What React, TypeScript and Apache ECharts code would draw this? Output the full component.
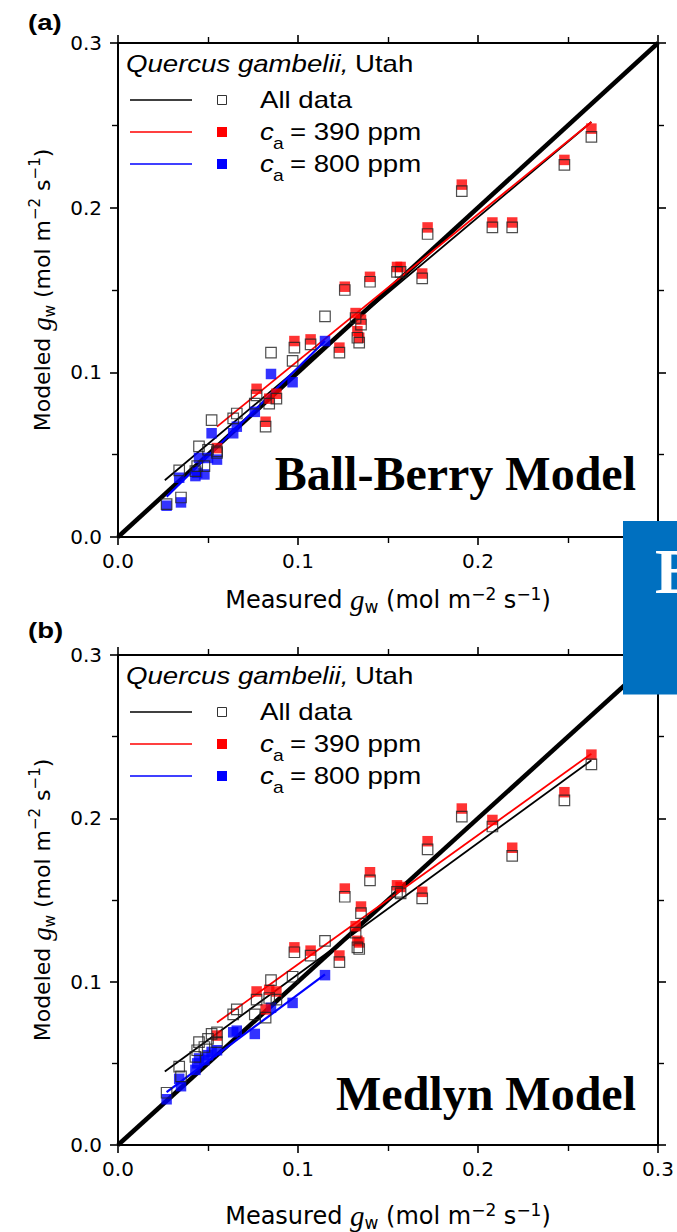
import React, { useEffect, useRef } from 'react';
import * as echarts from 'echarts';

// ---------- data ----------
// measured g_w, ca = 800 ppm (blue)
const c800X = [0.027, 0.034, 0.035, 0.043, 0.044, 0.045, 0.048, 0.050, 0.052, 0.055, 0.064, 0.066, 0.076, 0.085, 0.097, 0.115];
// measured g_w, ca = 390 ppm (red)
const c390X = [0.055, 0.077, 0.082, 0.084, 0.088, 0.098, 0.107, 0.123, 0.126, 0.132, 0.133, 0.134, 0.135, 0.140, 0.155, 0.157, 0.169, 0.172, 0.191, 0.208, 0.219, 0.248, 0.263];

// Ball-Berry modeled
const bb800 = [0.019, 0.036, 0.021, 0.037, 0.039, 0.048, 0.038, 0.048, 0.063, 0.047, 0.063, 0.067, 0.076, 0.099, 0.094, 0.119];
const bb390 = [0.054, 0.090, 0.070, 0.084, 0.087, 0.119, 0.120, 0.115, 0.152, 0.136, 0.125, 0.121, 0.132, 0.158, 0.164, 0.164, 0.160, 0.188, 0.214, 0.191, 0.191, 0.229, 0.248];
const bbAll800 = [0.020, 0.0405, 0.024, 0.040, 0.043, 0.055, 0.043, 0.053, 0.071, 0.052, 0.072, 0.075, 0.081, 0.112, 0.107, 0.134];
const bbAll390 = [0.051, 0.086, 0.067, 0.081, 0.084, 0.115, 0.117, 0.112, 0.150, 0.133, 0.121, 0.118, 0.129, 0.155, 0.161, 0.161, 0.157, 0.184, 0.210, 0.188, 0.188, 0.226, 0.243];

// Medlyn modeled
const md800 = [0.028, 0.0405, 0.036, 0.046, 0.050, 0.053, 0.052, 0.055, 0.057, 0.058, 0.069, 0.070, 0.068, 0.084, 0.087, 0.104];
const md390 = [0.067, 0.094, 0.083, 0.095, 0.094, 0.121, 0.119, 0.116, 0.157, 0.134, 0.125, 0.124, 0.146, 0.167, 0.159, 0.158, 0.155, 0.186, 0.206, 0.199, 0.182, 0.216, 0.239];
const mdAll800 = [0.032, 0.048, 0.042, 0.054, 0.058, 0.063, 0.060, 0.065, 0.068, 0.069, 0.080, 0.083, 0.080, 0.101, 0.103, 0.125];
const mdAll390 = [0.063, 0.089, 0.078, 0.090, 0.089, 0.118, 0.116, 0.112, 0.152, 0.130, 0.121, 0.120, 0.142, 0.162, 0.155, 0.154, 0.151, 0.181, 0.201, 0.195, 0.177, 0.211, 0.233];

// regression lines (end points)
const oneToOne = [[0, 0], [0.3, 0.3]];
const bbFitAll = [[0.026, 0.0345], [0.263, 0.252]];
const bbFit390 = [[0.055, 0.067], [0.263, 0.252]];
const bbFit800 = [[0.027, 0.0245], [0.115, 0.119]];
const mdFitAll = [[0.026, 0.045], [0.263, 0.2355]];
const mdFit390 = [[0.055, 0.075], [0.263, 0.2396]];
const mdFit800 = [[0.027, 0.0324], [0.115, 0.1044]];

const axisMin = 0;
const axisMax = 0.3;
const axisStep = 0.1;

const panelTitles = ['Ball-Berry Model', 'Medlyn Model'];
const panelLetters = ['(a)', '(b)'];
const speciesText = ['Quercus gambelii,', 'Utah'];
const legendTexts = ['All data', '= 390 ppm', '= 800 ppm'];

// ---------- styling helpers ----------
const RED = '#ff0000';
const BLUE = '#0000ff';
const SANS = 'DejaVu Sans';

function makeRich(size: number) {
  return {
    t: { fontFamily: SANS, fontSize: size, color: '#000', lineHeight: 30, verticalAlign: 'middle' },
    g: { fontFamily: 'Liberation Serif', fontStyle: 'italic', fontSize: size + 5, color: '#000', lineHeight: 30, verticalAlign: 'middle' },
    s: { fontFamily: SANS, fontSize: size - 7, color: '#000', lineHeight: 14, verticalAlign: 'bottom' },
    p: { fontFamily: SANS, fontSize: size - 7, color: '#000', lineHeight: 14, verticalAlign: 'top' },
  };
}
const xName = '{t|Measured }{g|g}{s|w}{t| (mol m}{p|\u22122}{t| s}{p|\u22121}{t|)}';
const yName = '{t|Modeled }{g|g}{s|w}{t| (mol m}{p|\u22122}{t| s}{p|\u22121}{t|)}';

function baseAxis(gridIndex: number, position: string, showLabel: boolean) {
  const isX = position === 'top' || position === 'bottom';
  return {
    type: 'value',
    gridIndex,
    position,
    min: axisMin,
    max: axisMax,
    interval: axisStep,
    axisLine: { show: true, onZero: false, lineStyle: { color: '#000', width: 2 } },
    axisTick: { show: true, inside: false, length: 8, lineStyle: { color: '#000', width: 1.6 } },
    minorTick: { show: true, splitNumber: 2, length: 6, lineStyle: { color: '#000', width: 1.4 } },
    splitLine: { show: false },
    minorSplitLine: { show: false },
    axisLabel: {
      show: showLabel,
      formatter: (v: number) => v.toFixed(1),
      fontFamily: SANS,
      fontSize: 20,
      color: '#000',
      margin: isX ? 14 : 16,
    },
  };
}

function lineSeries(data: number[][], color: string, width: number, g: number, z: number) {
  return {
    type: 'line',
    data,
    xAxisIndex: g * 2,
    yAxisIndex: g * 2,
    symbol: 'none',
    lineStyle: { color, width },
    z,
    silent: true,
  };
}

function scatterSeries(xs: number[], ys: number[], g: number, itemStyle: any, size: number, z: number) {
  return {
    type: 'scatter',
    data: xs.map((x, i) => [x, ys[i]]),
    xAxisIndex: g * 2,
    yAxisIndex: g * 2,
    symbol: 'rect',
    symbolSize: size,
    itemStyle,
    z,
    silent: true,
  };
}

function panelSeries(g: number, m800: number[], m390: number[], all800: number[], all390: number[], fAll: number[][], f390: number[][], f800: number[][]) {
  return [
    lineSeries(oneToOne, '#000', 4.5, g, 2),
    lineSeries(fAll, '#000', 1.8, g, 3),
    lineSeries(f390, RED, 1.8, g, 3),
    lineSeries(f800, BLUE, 2.2, g, 3),
    scatterSeries(c800X, m800, g, { color: BLUE }, 10.5, 4),
    scatterSeries(c390X, m390, g, { color: RED }, 10.5, 4),
    scatterSeries(c800X.concat(c390X), all800.concat(all390), g, { color: 'rgba(0,0,0,0)', borderColor: '#222', borderWidth: 1.2 }, 10.5, 5),
  ];
}

function legendEls(dy: number) {
  const txt = (x: number, y: number, text: string, size: number, extra: any = {}) => ({
    type: 'text', x, y: y + dy, scaleX: 1.2, z: 50,
    style: { text, fontFamily: 'Liberation Sans', fontSize: size, fill: '#000', align: 'left', verticalAlign: 'middle', ...extra },
  });
  const ln = (y: number, color: string) => ({
    type: 'line', z: 50, shape: { x1: 130, y1: y + dy, x2: 192, y2: y + dy }, style: { stroke: color, lineWidth: 1.7 },
  });
  const sq = (y: number, fill: string, stroke: string | null) => ({
    type: 'rect', z: 50,
    shape: stroke ? { x: 217.5, y: y + dy - 4.5, width: 9, height: 9 } : { x: 217, y: y + dy - 5, width: 10, height: 10 },
    style: stroke ? { fill, stroke, lineWidth: 1 } : { fill },
  });
  return [
    txt(126, 64, speciesText[0], 23, { fontStyle: 'italic' }),
    txt(355, 64, speciesText[1], 23),
    ln(100, '#000'), sq(100, '#fff', '#333'), txt(260, 100, legendTexts[0], 23),
    ln(132, RED), sq(132, RED, null),
    txt(260, 132, 'c', 23, { fontStyle: 'italic' }), txt(273, 144, 'a', 16), txt(290, 132, legendTexts[1], 23),
    ln(164, BLUE), sq(164, BLUE, null),
    txt(260, 164, 'c', 23, { fontStyle: 'italic' }), txt(273, 176, 'a', 16), txt(290, 164, legendTexts[2], 23),
  ];
}

const option: any = {
  animation: false,
  backgroundColor: '#fff',
  grid: [
    { left: 118, top: 43, width: 540, height: 494 },
    { left: 118, top: 655, width: 540, height: 492 },
  ],
  xAxis: [
    { ...baseAxis(0, 'bottom', true), name: xName, nameLocation: 'middle', nameGap: 48, nameTextStyle: { rich: makeRich(24) } },
    baseAxis(0, 'top', false),
    { ...baseAxis(1, 'bottom', true), name: xName, nameLocation: 'middle', nameGap: 56, nameTextStyle: { rich: makeRich(24) } },
    baseAxis(1, 'top', false),
  ],
  yAxis: [
    { ...baseAxis(0, 'left', true), name: yName, nameLocation: 'middle', nameRotate: 90, nameGap: 61, nameTextStyle: { rich: makeRich(22) } },
    baseAxis(0, 'right', false),
    { ...baseAxis(1, 'left', true), name: yName, nameLocation: 'middle', nameRotate: 90, nameGap: 61, nameTextStyle: { rich: makeRich(22) } },
    baseAxis(1, 'right', false),
  ],
  series: [
    ...panelSeries(0, bb800, bb390, bbAll800, bbAll390, bbFitAll, bbFit390, bbFit800),
    ...panelSeries(1, md800, md390, mdAll800, mdAll390, mdFitAll, mdFit390, mdFit800),
  ],
  graphic: [
    ...legendEls(0),
    ...legendEls(612),
    { type: 'text', x: 28, y: 22, scaleX: 1.25, z: 50, style: { text: panelLetters[0], fontFamily: 'Liberation Sans', fontWeight: 'bold', fontSize: 22, fill: '#000', verticalAlign: 'middle' } },
    { type: 'text', x: 28, y: 630, scaleX: 1.25, z: 50, style: { text: panelLetters[1], fontFamily: 'Liberation Sans', fontWeight: 'bold', fontSize: 22, fill: '#000', verticalAlign: 'middle' } },
    { type: 'text', x: 636, y: 473, z: 50, style: { text: panelTitles[0], fontFamily: 'Liberation Serif', fontWeight: 'bold', fontSize: 48, fill: '#000', align: 'right', verticalAlign: 'middle' } },
    { type: 'text', x: 636, y: 1093, z: 50, style: { text: panelTitles[1], fontFamily: 'Liberation Serif', fontWeight: 'bold', fontSize: 48, fill: '#000', align: 'right', verticalAlign: 'middle' } },
    { type: 'rect', z: 100, shape: { x: 623, y: 521, width: 60, height: 173.5 }, style: { fill: '#0070c0' } },
    { type: 'text', x: 655, y: 571, z: 101, style: { text: 'B', fontFamily: 'Liberation Serif', fontWeight: 'bold', fontSize: 64, fill: '#fff', align: 'left', verticalAlign: 'middle' } },
  ],
};

export default function App() {
  const ref = useRef<HTMLDivElement>(null);
  useEffect(() => {
    const chart = echarts.init(ref.current as HTMLDivElement, null, { renderer: 'svg' });
    chart.setOption(option);
    return () => chart.dispose();
  }, []);
  return <div ref={ref} style={{ position: 'absolute', left: 0, top: 0, width: 677, height: 1232, background: '#fff' }} />;
}
